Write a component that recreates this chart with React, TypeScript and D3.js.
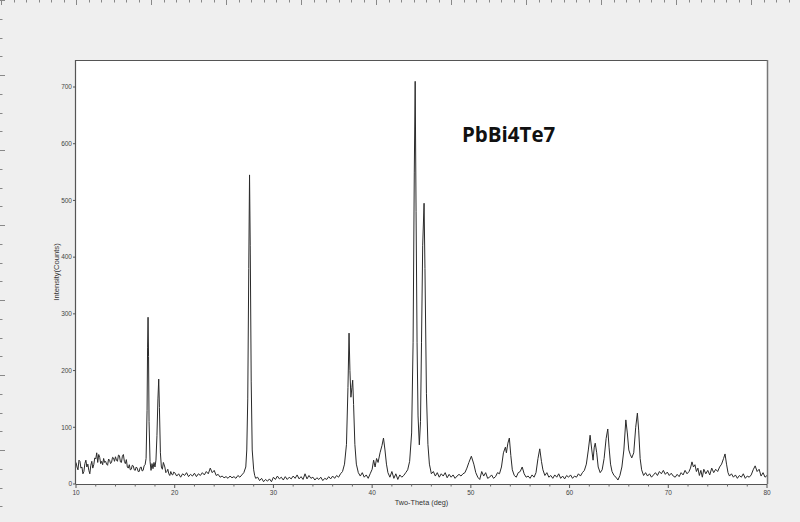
import React from "react";
import * as d3 from "d3";

const title = "PbBi4Te7";
const xLabel = "Two-Theta (deg)";
const yLabel = "Intensity(Counts)";
const xTicks = [10, 20, 30, 40, 50, 60, 70, 80];
const yTicks = [0, 100, 200, 300, 400, 500, 600, 700];

// [2-theta, counts]
const pattern: [number, number][] = [
  [10.0, 38], [10.1, 30], [10.2, 25], [10.3, 42], [10.4, 40], [10.5, 28], [10.6, 30], [10.7, 18], [10.8, 22], [10.9, 36],
  [11.0, 42], [11.1, 30], [11.2, 35], [11.3, 24], [11.4, 18], [11.5, 33], [11.6, 40], [11.7, 28], [11.8, 34], [11.9, 46],
  [12.0, 44], [12.1, 55], [12.2, 38], [12.3, 52], [12.4, 47], [12.5, 36], [12.6, 40], [12.7, 34], [12.8, 45], [12.9, 38],
  [13.0, 40], [13.1, 35], [13.2, 33], [13.3, 44], [13.4, 42], [13.5, 36], [13.6, 38], [13.7, 47], [13.8, 46], [13.9, 40],
  [14.0, 48], [14.1, 42], [14.2, 40], [14.3, 51], [14.4, 50], [14.5, 39], [14.6, 38], [14.7, 49], [14.8, 52], [14.9, 40],
  [15.0, 36], [15.1, 43], [15.2, 30], [15.3, 28], [15.4, 34], [15.5, 25], [15.6, 26], [15.7, 33], [15.8, 32], [15.9, 25],
  [16.0, 24], [16.1, 30], [16.2, 28], [16.3, 22], [16.4, 22], [16.5, 29], [16.6, 30], [16.7, 23], [16.8, 24], [16.9, 32],
  [17.0, 34], [17.1, 45], [17.2, 130], [17.25, 240], [17.3, 294], [17.35, 225], [17.4, 110], [17.5, 40], [17.6, 24], [17.7, 36],
  [17.8, 27], [17.9, 38], [18.0, 30], [18.1, 42], [18.2, 85], [18.3, 150], [18.38, 185], [18.45, 135], [18.55, 55], [18.65, 30],
  [18.75, 26], [18.85, 38], [19.0, 30], [19.1, 20], [19.2, 22], [19.3, 26], [19.4, 18], [19.5, 15], [19.6, 22], [19.7, 17],
  [19.8, 16], [19.9, 21], [20.0, 20], [20.2, 14], [20.4, 18], [20.6, 12], [20.8, 18], [21.0, 15], [21.2, 20], [21.4, 13],
  [21.6, 17], [21.8, 14], [22.0, 19], [22.2, 13], [22.4, 18], [22.6, 15], [22.8, 20], [23.0, 16], [23.2, 22], [23.4, 18],
  [23.6, 28], [23.8, 20], [24.0, 24], [24.2, 15], [24.4, 17], [24.6, 12], [24.8, 14], [25.0, 11], [25.2, 13], [25.4, 10],
  [25.6, 14], [25.8, 11], [26.0, 13], [26.2, 10], [26.4, 15], [26.6, 12], [26.8, 16], [27.0, 20], [27.2, 30], [27.3, 60],
  [27.4, 150], [27.5, 380], [27.58, 545], [27.65, 420], [27.75, 180], [27.85, 60], [28.0, 25], [28.1, 15], [28.2, 10], [28.4, 12],
  [28.6, 6], [28.8, 10], [29.0, 4], [29.2, 8], [29.4, 5], [29.6, 9], [29.8, 4], [30.0, 12], [30.2, 8], [30.4, 14],
  [30.6, 9], [30.8, 12], [31.0, 7], [31.2, 13], [31.4, 8], [31.6, 12], [31.8, 9], [32.0, 14], [32.2, 10], [32.4, 16],
  [32.6, 9], [32.8, 13], [33.0, 8], [33.2, 18], [33.4, 9], [33.6, 15], [33.8, 10], [34.0, 12], [34.2, 7], [34.4, 11],
  [34.6, 8], [34.8, 12], [35.0, 6], [35.2, 10], [35.4, 8], [35.6, 13], [35.8, 9], [36.0, 14], [36.2, 10], [36.4, 15],
  [36.6, 12], [36.8, 18], [37.0, 22], [37.2, 35], [37.4, 70], [37.55, 170], [37.66, 266], [37.75, 200], [37.85, 153], [37.95, 170],
  [38.03, 183], [38.12, 140], [38.25, 70], [38.4, 35], [38.6, 20], [38.8, 14], [39.0, 20], [39.2, 12], [39.4, 16], [39.6, 10],
  [39.8, 18], [40.0, 26], [40.15, 42], [40.3, 30], [40.45, 45], [40.6, 38], [40.8, 55], [41.0, 68], [41.15, 81], [41.3, 60],
  [41.45, 35], [41.6, 20], [41.8, 12], [42.0, 22], [42.2, 10], [42.4, 18], [42.6, 8], [42.8, 16], [43.0, 12], [43.2, 15],
  [43.4, 20], [43.6, 25], [43.8, 40], [44.0, 90], [44.15, 250], [44.27, 550], [44.36, 710], [44.45, 480], [44.55, 250], [44.65, 120],
  [44.78, 69], [44.9, 110], [45.0, 250], [45.12, 420], [45.26, 495], [45.35, 380], [45.5, 160], [45.65, 70], [45.8, 35], [46.0, 18],
  [46.2, 22], [46.4, 14], [46.6, 20], [46.8, 12], [47.0, 18], [47.2, 14], [47.4, 20], [47.6, 11], [47.8, 17], [48.0, 12],
  [48.2, 16], [48.4, 10], [48.6, 14], [48.8, 17], [49.0, 14], [49.2, 18], [49.4, 20], [49.6, 28], [49.8, 38], [50.05, 49],
  [50.3, 35], [50.5, 20], [50.7, 12], [50.9, 8], [51.1, 22], [51.3, 14], [51.5, 20], [51.7, 10], [51.9, 12], [52.1, 16],
  [52.3, 10], [52.5, 13], [52.7, 20], [52.9, 18], [53.1, 30], [53.3, 55], [53.5, 65], [53.6, 55], [53.75, 72], [53.9, 81],
  [54.05, 50], [54.2, 25], [54.4, 15], [54.6, 12], [54.8, 20], [55.0, 22], [55.2, 30], [55.4, 18], [55.6, 12], [55.8, 14],
  [56.0, 10], [56.2, 16], [56.4, 12], [56.6, 20], [56.8, 45], [56.98, 62], [57.15, 40], [57.3, 25], [57.5, 15], [57.7, 20],
  [57.9, 12], [58.1, 15], [58.3, 10], [58.5, 16], [58.7, 12], [58.9, 18], [59.1, 10], [59.3, 14], [59.5, 9], [59.7, 15],
  [59.9, 12], [60.1, 16], [60.3, 10], [60.5, 14], [60.7, 12], [60.9, 18], [61.1, 14], [61.3, 20], [61.5, 24], [61.7, 35],
  [61.9, 60], [62.08, 86], [62.25, 60], [62.38, 42], [62.5, 65], [62.6, 72], [62.75, 55], [62.9, 30], [63.1, 20], [63.3, 25],
  [63.5, 45], [63.7, 80], [63.87, 97], [64.0, 65], [64.15, 35], [64.3, 22], [64.5, 15], [64.7, 12], [64.9, 7], [65.1, 15],
  [65.3, 30], [65.5, 60], [65.7, 113], [65.85, 90], [66.0, 60], [66.15, 52], [66.3, 46], [66.5, 55], [66.7, 100], [66.87, 125],
  [67.0, 95], [67.15, 45], [67.3, 25], [67.5, 15], [67.7, 20], [67.9, 14], [68.1, 18], [68.3, 12], [68.5, 16], [68.7, 20],
  [68.9, 15], [69.1, 22], [69.3, 18], [69.5, 24], [69.7, 17], [69.9, 21], [70.1, 15], [70.3, 19], [70.5, 14], [70.7, 12],
  [70.9, 17], [71.1, 13], [71.3, 20], [71.5, 16], [71.7, 24], [71.9, 18], [72.1, 22], [72.25, 28], [72.4, 39], [72.55, 30],
  [72.7, 34], [72.85, 22], [73.0, 28], [73.15, 15], [73.3, 24], [73.45, 12], [73.6, 26], [73.8, 18], [74.0, 24], [74.2, 16],
  [74.4, 28], [74.6, 20], [74.8, 26], [75.0, 22], [75.2, 30], [75.4, 35], [75.6, 45], [75.75, 53], [75.9, 35], [76.05, 20],
  [76.2, 14], [76.4, 18], [76.6, 12], [76.8, 16], [77.0, 10], [77.2, 15], [77.4, 12], [77.6, 18], [77.8, 10], [78.0, 14],
  [78.2, 12], [78.4, 16], [78.6, 25], [78.8, 32], [79.0, 22], [79.2, 26], [79.4, 14], [79.6, 20], [79.8, 12], [80.0, 15],
];

const W = 800;
const H = 522;
const left = 76;
const right = 767;
const top = 60;
const bottom = 484;

export default function App() {
  const x = d3.scaleLinear().domain([10, 80]).range([left, right]);
  const y = d3.scaleLinear().domain([0, 700]).range([bottom, 87]);
  const line = d3
    .line<[number, number]>()
    .x((d) => x(d[0]))
    .y((d) => y(d[1]));
  const minorX = d3.range(10, 80.01, 2).filter((v) => v % 10 !== 0);
  const topRuler = d3.range(1, W, 12.5);
  const leftRuler = d3.range(0, H, 18.75);
  const font = "Arial, 'Liberation Sans', sans-serif";

  return (
    <svg
      width={W}
      height={H}
      style={{ position: "absolute", left: 0, top: 0, display: "block" }}
      fontFamily={font}
    >
      <rect x={0} y={0} width={W} height={H} fill="#efefef" />
      {topRuler.map((px, i) => (
        <line
          key={"tr" + i}
          x1={Math.round(px) + 0.5}
          x2={Math.round(px) + 0.5}
          y1={0}
          y2={Math.abs(px - 76) % 75 < 1 ? 5 : 2.5}
          stroke="#888"
          strokeWidth={1}
        />
      ))}
      {leftRuler.map((py, i) => (
        <line
          key={"lr" + i}
          y1={Math.round(py) + 0.5}
          y2={Math.round(py) + 0.5}
          x1={0}
          x2={i % 4 === 0 ? 5 : 2.5}
          stroke="#888"
          strokeWidth={1}
        />
      ))}
      <rect x={left} y={top} width={right - left} height={bottom - top} fill="#ffffff" />
      <path d={line(pattern) ?? ""} fill="none" stroke="#2a2a2a" strokeWidth={1} strokeLinejoin="round" />
      {/* frame */}
      <line x1={left} x2={right} y1={top + 0.5} y2={top + 0.5} stroke="#555" strokeWidth={1.2} />
      <line x1={left - 0.5} x2={left - 0.5} y1={top} y2={bottom} stroke="#555" strokeWidth={1.2} />
      <line x1={right + 0.5} x2={right + 0.5} y1={top} y2={bottom} stroke="#777" strokeWidth={1.5} />
      <line x1={left} x2={right} y1={bottom + 0.5} y2={bottom + 0.5} stroke="#555" strokeWidth={1.2} />
      {/* x ticks */}
      {xTicks.map((t) => (
        <g key={"xt" + t}>
          <line x1={x(t)} x2={x(t)} y1={bottom} y2={bottom + 4} stroke="#555" />
          <text x={x(t)} y={bottom + 11} fontSize={6.5} fill="#444" textAnchor="middle">
            {t}
          </text>
        </g>
      ))}
      {minorX.map((t) => (
        <line key={"xm" + t} x1={x(t)} x2={x(t)} y1={bottom} y2={bottom + 2.5} stroke="#666" />
      ))}
      {/* y ticks */}
      {yTicks.map((t) => (
        <g key={"yt" + t}>
          <line x1={left - 3} x2={left} y1={y(t)} y2={y(t)} stroke="#555" />
          <text x={left - 4} y={y(t) + 2.3} fontSize={6.5} fill="#444" textAnchor="end">
            {t}
          </text>
        </g>
      ))}
      <text x={(left + right) / 2} y={505} fontSize={7.3} fill="#333" textAnchor="middle">
        {xLabel}
      </text>
      <text
        transform={`translate(59, ${(top + bottom) / 2}) rotate(-90)`}
        fontSize={7.6}
        fill="#333"
        textAnchor="middle"
      >
        {yLabel}
      </text>
      <text x={462} y={142} fontSize={20.5} fontWeight="bold" fill="#111" fontFamily="'Open Sans', 'Liberation Sans', sans-serif">
        {title}
      </text>
    </svg>
  );
}
